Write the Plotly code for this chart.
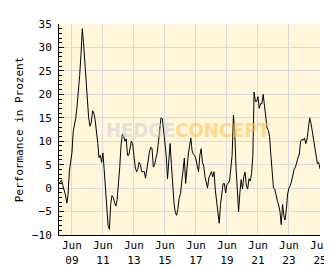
import plotly.graph_objects as go
import pandas as pd

start_month = "2008-08-01"
values = [
    1.0, 1.5, 1.7, 0.5, -0.5, -1.5, -3.2, -1.5, 3.5, 6.0,
    7.5, 12.0, 13.5, 15.0, 17.5, 20.5, 24.0, 28.5, 34.0, 31.0,
    26.5, 22.5, 18.5, 15.0, 13.2, 14.0, 16.5, 16.0, 14.5, 12.5,
    9.5, 6.5, 7.0, 5.5, 7.5, 4.0, -1.0, -3.5, -8.0, -8.8,
    -3.5, -1.6, -2.0, -3.0, -3.8, -2.5, 0.4, 4.4, 9.0, 11.5,
    11.0, 10.0, 10.5, 7.0, 7.0, 8.7, 10.0, 9.5, 6.5, 4.5,
    3.5, 4.0, 5.5, 5.0, 3.5, 3.5, 3.5, 2.1, 4.4, 6.4,
    7.7, 8.7, 8.5, 4.5, 5.0, 6.3, 7.5, 10.0, 13.5, 15.0,
    14.8, 12.5, 10.0, 7.0, 2.0, 6.0, 9.5, 5.0, -0.2, -3.2,
    -5.2, -5.8, -4.5, -2.2, -1.2, 1.0, 4.0, 6.4, 1.0, 5.0,
    7.0, 9.0, 10.7, 8.0, 7.2, 7.0, 6.2, 4.8, 3.5, 7.0,
    8.4, 5.5, 4.7, 2.4, 1.1, 0.0, 2.2, 3.1, 3.5, 2.4,
    3.5, -0.5, -3.0, -4.5, -7.5, -3.5, -1.6, 0.9, 1.0, -1.0,
    0.8, 1.0, 1.5, 4.0, 7.0, 15.5, 12.0, 4.4, -1.6, -5.0,
    -1.0, 1.8, -0.2, 2.4, 3.4, 0.5, -0.2, 2.0, 1.5, 3.1,
    7.0, 20.5, 18.5, 18.5, 19.5, 17.0, 18.0, 18.0, 20.0, 17.3,
    15.0, 12.8, 12.3, 11.0, 7.0, 3.5, 0.0, -0.2, -1.9, -2.7,
    -3.6, -5.0, -7.8, -3.5, -5.9, -6.8, -4.5, -1.2, 0.0, 0.5,
    1.5, 3.1, 4.0, 4.5, 5.8, 6.5, 7.3, 10.0, 10.4, 10.2,
    10.7, 9.5, 10.5, 13.2, 15.0, 13.8, 12.0, 11.0, 9.0, 6.4,
    5.2, 5.5, 4.1,
]
dates = pd.date_range(start=start_month, periods=len(values), freq="MS")

tick_dates = ["2009-06-01", "2011-06-01", "2013-06-01", "2015-06-01",
              "2017-06-01", "2019-06-01", "2021-06-01", "2023-06-01", "2025-06-01"]
tick_labels = ["Jun<br>09", "Jun<br>11", "Jun<br>13", "Jun<br>15",
               "Jun<br>17", "Jun<br>19", "Jun<br>21", "Jun<br>23", "Jun<br>25"]
y_ticks = [-10, -5, 0, 5, 10, 15, 20, 25, 30, 35]

mono = "DejaVu Sans Mono"
wm_font = "Liberation Sans Narrow, DejaVu Sans Condensed, sans-serif"
watermark = ("<b><span style='color:rgba(205,205,205,0.55)'>HEDGE</span>"
             "<span style='color:rgba(255,200,90,0.65)'>CONCEPT</span></b>")

fig = go.Figure()
fig.add_trace(go.Scatter(x=dates, y=values, mode="lines",
                         line=dict(color="black", width=1), hoverinfo="skip"))

fig.update_layout(
    width=332, height=269,
    margin=dict(l=40, r=10, t=11, b=32),
    paper_bgcolor="white", plot_bgcolor="#FFF6DC",
    showlegend=False,
    font=dict(family=mono, size=11, color="black"),
    xaxis=dict(
        range=[start_month, "2025-06-01"],
        tickmode="array", tickvals=tick_dates, ticktext=tick_labels,
        showgrid=True, gridcolor="#DADADA", gridwidth=1,
        showline=True, linecolor="black", linewidth=1,
        ticks="", zeroline=False, tickangle=0,
        tickfont=dict(family=mono, size=11),
    ),
    yaxis=dict(
        range=[-10, 35],
        tickmode="array", tickvals=y_ticks,
        showgrid=True, gridcolor="#DADADA", gridwidth=1,
        showline=True, linecolor="black", linewidth=1,
        ticks="inside", ticklen=5, tickcolor="black",
        minor=dict(dtick=1, ticks="inside", ticklen=3, tickcolor="black", showgrid=False),
        zeroline=False,
        ticklabelstandoff=4,
        tickfont=dict(family=mono, size=11),
        title=dict(text="Performance in Prozent", font=dict(family=mono, size=11), standoff=6),
    ),
    annotations=[
        dict(text=watermark, x=0.497, y=0.50, xref="paper", yref="paper",
             xanchor="center", yanchor="middle", showarrow=False,
             font=dict(family=wm_font, size=20)),
    ],
)

fig.write_html("out.html")
